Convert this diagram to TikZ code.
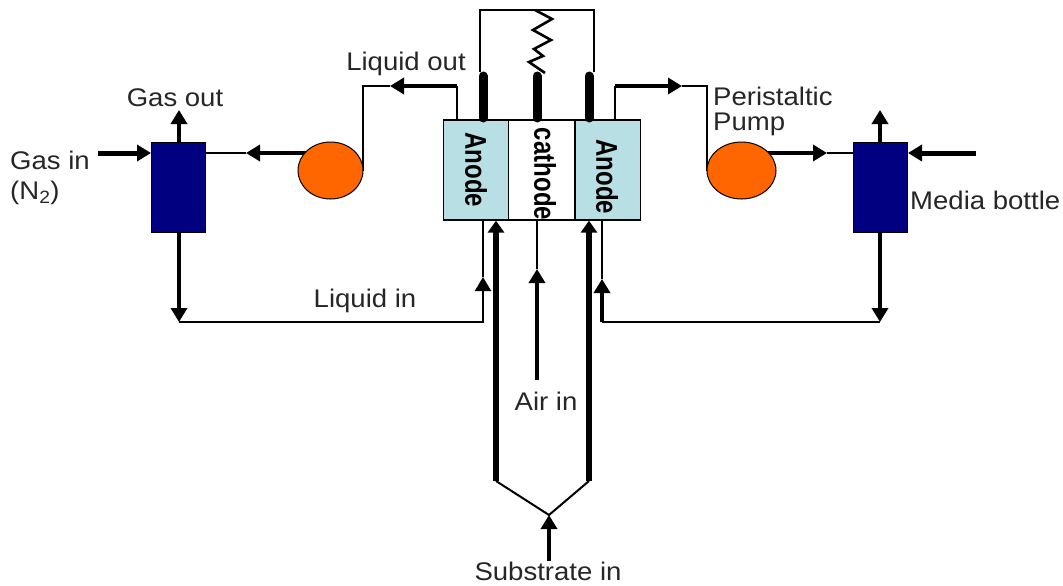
\documentclass[tikz,border=0pt]{standalone}
\usepackage{fontspec}
\setmainfont[FakeStretch=1.08]{Liberation Sans}
\newfontfamily\cellfont[FakeStretch=0.8]{Liberation Sans}
\usetikzlibrary{arrows.meta}
\usetikzlibrary{shapes.geometric}
\tikzset{bottle/.style = {draw, fill={rgb,255:red,0;green,0;blue,128}, line width=1, inner sep=0, minimum width=54, minimum height=90}}
\tikzset{pump/.style = {draw, fill={rgb,255:red,255;green,102;blue,0}, ellipse, line width=1, inner sep=0, minimum height=57}}
\tikzset{cell/.style = {draw, line width=1.3, inner sep=0, minimum width=65.5, minimum height=100}}
\tikzset{txt/.style = {inner sep=0, font=\fontsize{25.5}{30}\selectfont, text=black!85}}
\tikzset{celltxt/.style = {inner sep=0, rotate=-90, font=\fontsize{30}{32}\selectfont\cellfont\bfseries}}
\tikzset{thin line/.style = {line width=2}}
\tikzset{flow/.style = {line width=4, -{Triangle[width=16,length=14]}}}
\tikzset{feed/.style = {line width=5.5, -{Triangle[width=16,length=12]}}}
\tikzset{electrode/.style = {line width=9, line cap=round}}
\begin{document}
\begin{tikzpicture}[x=1pt,y=-1pt]
        \useasboundingbox (0,0) rectangle (1063,586);
        \node [cell,fill={rgb,255:red,184;green,224;blue,228}] (anodeL) at (476,170) {};
        \node [cell] (cathode) at (541.5,170) {};
        \node [cell,fill={rgb,255:red,184;green,224;blue,228}] (anodeR) at (608,170) {};
        \node [celltxt] (anodeLtxt) at (476,170) {Anode};
        \node [celltxt] (cathodetxt) at (545,174) {cathode};
        \node [celltxt] (anodeRtxt) at (607,177) {Anode};
        \node [bottle] (bottleL) at (178.5,187.5) {};
        \node [bottle] (bottleR) at (880.5,187.5) {};
        \coordinate (wireL) at (480,72);
        \coordinate (wireR) at (594,72);
        \coordinate (topL) at (480,10);
        \coordinate (topR) at (594,10);
        % electrodes and the resistor
        \draw [electrode] (483,118) -- (483,76);
        \draw [electrode] (537,118) -- (537,76);
        \draw [electrode] (589,118) -- (589,76);
        \draw [line width=2] (wireL) -- (topL) -- (topR) -- (wireR);
        \draw [line width=2.6] (535,10) -- (552,19) -- (533,30) -- (551,40) -- (534,49) -- (543,56) -- (529,62) -- (545,73);
        % left loop
        \coordinate (outL) at (457,86);
        \coordinate (outLtip) at (390,86);
        \coordinate (outLcorner) at (363,86);
        \coordinate (linkL) at (246,153);
        \coordinate (pumpLout) at (310,153);
        \coordinate (gasinL) at (98,153);
        \coordinate (gasoutL) at (179,110);
        \coordinate (cornerL) at (179,322);
        \coordinate (riseL) at (483,322);
        \coordinate (riseLtip) at (483,277);
        \draw [thin line] (outL|-anodeL.north) -- (outL);
        \draw [flow] (outL) -- (outLtip);
        \draw [thin line] (outLtip) -- (outLcorner) -- (363,171);
        \draw [flow] (pumpLout) -- (linkL);
        \draw [thin line] (linkL) -- (linkL-|bottleL.east);
        \draw [flow,line width=5] (gasinL) -- (gasinL-|bottleL.west);
        \draw [flow] (gasoutL|-bottleL.north) -- (gasoutL);
        \draw [flow] (cornerL|-bottleL.south) -- (cornerL);
        \draw [thin line,-{Triangle[width=16,length=14]}] (cornerL) -- (riseL) -- (riseLtip);
        \draw [thin line] (riseLtip) -- (riseLtip|-anodeL.south);
        % right loop
        \coordinate (outR) at (615,86);
        \coordinate (outRtip) at (682,86);
        \coordinate (outRcorner) at (707,86);
        \coordinate (linkR) at (827,153);
        \coordinate (pumpRout) at (766,153);
        \coordinate (gasinR) at (976,153);
        \coordinate (gasoutR) at (880,110);
        \coordinate (cornerR) at (880,322);
        \coordinate (riseR) at (602,322);
        \coordinate (riseRtip) at (602,279);
        \draw [thin line] (outR|-anodeR.north) -- (outR);
        \draw [flow] (outR) -- (outRtip);
        \draw [thin line] (outRtip) -- (outRcorner) -- (707,171);
        \draw [flow] (pumpRout) -- (linkR);
        \draw [thin line] (linkR) -- (linkR-|bottleR.west);
        \draw [flow,line width=5] (gasinR) -- (gasinR-|bottleR.east);
        \draw [flow] (gasoutR|-bottleR.north) -- (gasoutR);
        \draw [flow] (cornerR|-bottleR.south) -- (cornerR);
        \draw [thin line] (cornerR) -- (riseR);
        \draw [flow] (riseR) -- (riseRtip);
        \draw [thin line] (riseRtip) -- (riseRtip|-anodeR.south);
        % pumps sit on top of their pipes
        \node [pump,minimum width=65] (pumpL) at (330.5,170.5) {};
        \node [pump,minimum width=69] (pumpR) at (741.5,170.5) {};
        % feeds from below
        \coordinate (subL) at (496,481);
        \coordinate (subR) at (589,481);
        \coordinate (subJoin) at (549,515);
        \coordinate (subIn) at (549,561);
        \coordinate (airIn) at (537,380);
        \coordinate (airTip) at (537,269);
        \draw [feed] (subL) -- (subL|-anodeL.south);
        \draw [feed] (subR) -- (subR|-anodeR.south);
        \draw [thin line] (subL) -- (subJoin) -- (subR);
        \draw [flow] (subIn) -- (subJoin);
        \draw [flow] (airIn) -- (airTip);
        \draw [thin line] (airTip) -- (airTip|-cathode.south);
        % labels
        \node [txt] (liquidout) at (406,64) {Liquid out};
        \node [txt] (gasout) at (175,98) {Gas out};
        \node [txt,anchor=west] (gasin) at (10,160) {Gas in};
        \node [txt,anchor=west] (nitrogen) at (10,193) {(N\textsubscript{2})};
        \node [txt,anchor=west] (peristaltic) at (713,96) {Peristaltic};
        \node [txt,anchor=west] (pumplabel) at (713,124) {Pump};
        \node [txt,anchor=west] (media) at (910,200) {Media bottle};
        \node [txt] (liquidin) at (365,301) {Liquid in};
        \node [txt] (airin) at (546,401) {Air in};
        \node [txt] (substrate) at (548,571) {Substrate in};
    \end{tikzpicture}
\end{document}
